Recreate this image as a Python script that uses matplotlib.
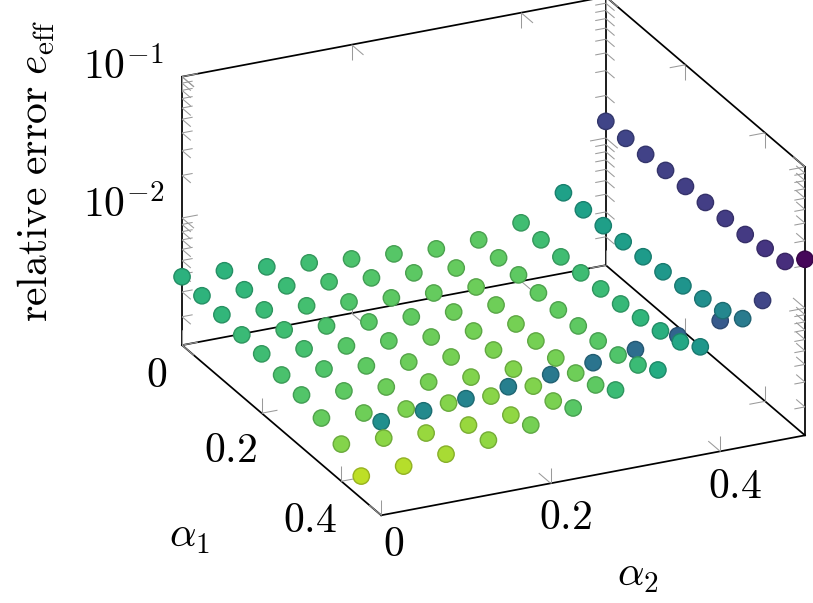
import numpy as np
import matplotlib
matplotlib.use('Agg')
import matplotlib.pyplot as plt

plt.rcParams['mathtext.fontset'] = 'cm'

alpha1 = [0.0, 0.05, 0.1, 0.15, 0.2, 0.25, 0.3, 0.35, 0.4, 0.45, 0.5]

# log10 of the relative error, one list per alpha2, going along alpha1
log_err_a2_000 = [-2.416, -2.430, -2.444, -2.466, -2.480, -2.509, -2.530, -2.573, -2.637, -2.743, -2.238]
log_err_a2_005 = [-2.430, -2.444, -2.466, -2.487, -2.501, -2.523, -2.558, -2.594, -2.651, -2.729, -2.217]
log_err_a2_010 = [-2.459, -2.473, -2.494, -2.516, -2.537, -2.558, -2.587, -2.622, -2.672, -2.701, -2.188]
log_err_a2_015 = [-2.487, -2.501, -2.523, -2.544, -2.558, -2.587, -2.608, -2.637, -2.672, -2.658, -2.160]
log_err_a2_020 = [-2.516, -2.530, -2.551, -2.565, -2.587, -2.608, -2.630, -2.644, -2.658, -2.608, -2.131]
log_err_a2_025 = [-2.537, -2.551, -2.573, -2.587, -2.601, -2.615, -2.630, -2.630, -2.615, -2.544, -2.103]
log_err_a2_030 = [-2.558, -2.573, -2.587, -2.594, -2.608, -2.608, -2.608, -2.594, -2.558, -2.473, -2.067]
log_err_a2_035 = [-2.551, -2.558, -2.558, -2.565, -2.565, -2.558, -2.544, -2.523, -2.473, -2.388, -2.025]
log_err_a2_040 = [-2.487, -2.487, -2.487, -2.480, -2.473, -2.459, -2.437, -2.409, -2.366, -2.281, -1.975]
log_err_a2_045 = [-2.331, -2.331, -2.323, -2.316, -2.302, -2.288, -2.267, -2.238, -2.202, -2.138, -1.889]
log_err_a2_050 = [-1.882, -1.882, -1.875, -1.868, -1.861, -1.854, -1.847, -1.840, -1.818, -1.790, -1.654]

alpha2_columns = [
    (0.0, log_err_a2_000), (0.05, log_err_a2_005), (0.1, log_err_a2_010),
    (0.15, log_err_a2_015), (0.2, log_err_a2_020), (0.25, log_err_a2_025),
    (0.3, log_err_a2_030), (0.35, log_err_a2_035), (0.4, log_err_a2_040),
    (0.45, log_err_a2_045), (0.5, log_err_a2_050),
]

alpha_ticks = [0.0, 0.2, 0.4]
z_major = [-2, -1]
z_minor = [d + np.log10(k) for d in (-3, -2) for k in range(2, 10)]

zlo, zhi = -2.9, -1.0
amax = 0.5


def px(x, y):
    return x / 813, 1 - y / 603


fig = plt.figure(figsize=(8.13, 6.03), dpi=100)
ax = fig.add_axes([132.5 / 813, -14 / 603, 703 / 813, 703 / 603], projection='3d',
                  proj_type='ortho', computed_zorder=False)
ax.view_init(elev=23.67, azim=-25.17)
ax.set_box_aspect((468, 468, 293))
ax.set_xlim(0, amax)
ax.set_ylim(0, amax)
ax.set_zlim(zlo, zhi)
ax.set_autoscale_on(False)
ax.set_axis_off()

# box
box_edges = [
    ((0, 0), (0, amax), (zlo, zlo)), ((0, amax), (amax, amax), (zlo, zlo)),
    ((amax, amax), (amax, 0), (zlo, zlo)), ((amax, 0), (0, 0), (zlo, zlo)),
    ((0, 0), (0, 0), (zlo, zhi)), ((0, 0), (amax, amax), (zlo, zhi)),
    ((amax, amax), (amax, amax), (zlo, zhi)),
    ((0, 0), (0, amax), (zhi, zhi)), ((0, amax), (amax, amax), (zhi, zhi)),
]
for xs, ys, zs in box_edges:
    ax.plot(xs, ys, zs, color='black', lw=1.25, zorder=1, solid_capstyle='projecting')


def tick(x, y, z, dx=0, dy=0, dz=0):
    ax.plot([x, x + dx], [y, y + dy], [z, z + dz], color='#9a9a9a', lw=0.75, zorder=2,
            solid_capstyle='butt')


# z ticks on the three upright edges
for z, la1, la2 in [(v, 0.03, 0.0186) for v in z_major] + [(v, 0.022, 0.0125) for v in z_minor]:
    tick(0, 0, z, dx=la1)
    tick(0, 0, z, dy=la2)
    tick(0, amax, z, dx=la1)
    tick(0, amax, z, dy=-la2)
    tick(amax, amax, z, dx=-la1)
    tick(amax, amax, z, dy=-la2)

# alpha ticks on floor and top edges
lz = 0.107
la1 = 0.03
la2 = 0.0186
for v in alpha_ticks:
    tick(v, 0, zlo, dz=lz)
    tick(v, 0, zlo, dy=la2)
    tick(v, amax, zlo, dz=lz)
    tick(v, amax, zlo, dy=-la2)
    tick(v, amax, zhi, dz=-lz)
    tick(v, amax, zhi, dy=-la2)
    tick(amax, v, zlo, dz=lz)
    tick(amax, v, zlo, dx=-la1)
    tick(0, v, zlo, dz=lz)
    tick(0, v, zlo, dx=la1)
    tick(0, v, zhi, dz=-lz)
    tick(0, v, zhi, dx=la1)

# one scatter per alpha2 so later columns stay on top, as in the original
cmap = plt.get_cmap('viridis_r')
norm = plt.Normalize(-2.864, -1.63)
for n, (a2, log_err) in enumerate(alpha2_columns):
    fill = cmap(norm(log_err))
    edge = fill.copy()
    edge[:, :3] = edge[:, :3] * 0.8
    ax.scatter(alpha1, [a2] * len(alpha1), log_err, s=138, c=fill, edgecolors=edge,
               linewidths=1.0, depthshade=False, zorder=3 + n)

fs = 30
for lab, pos in [('$0$', (157, 375)), ('$0.2$', (231, 450)), ('$0.4$', (310, 520)),
                 ('$0$', (394, 544)), ('$0.2$', (566, 517)), ('$0.4$', (735, 486))]:
    fig.text(*px(*pos), lab, fontsize=fs, ha='center', va='center')
fig.text(*px(164, 68), '$10^{-1}$', fontsize=fs, ha='right', va='center')
fig.text(*px(164, 206), '$10^{-2}$', fontsize=fs, ha='right', va='center')
fig.text(*px(190, 535), r'$\alpha_1$', fontsize=fs, ha='center', va='center')
fig.text(*px(638, 574), r'$\alpha_2$', fontsize=fs, ha='center', va='center')
fig.text(*px(36, 171), r'$\mathrm{relative\ error}\ e_{\mathrm{eff}}$', fontsize=fs,
         rotation=90, ha='center', va='center')

fig.savefig('out.png', dpi=100, facecolor='white')
